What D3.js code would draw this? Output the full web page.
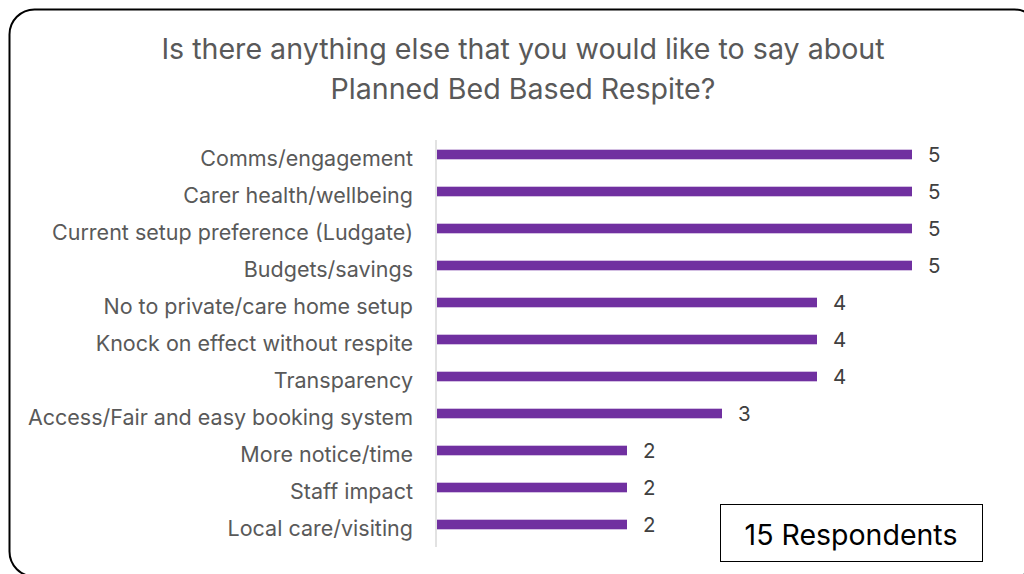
<!DOCTYPE html>
<html>
<head>
<meta charset="utf-8">
<script src="https://cdn.jsdelivr.net/npm/d3@7"></script>
<style>
  html, body { margin: 0; padding: 0; background: #fff; }
  svg { display: block; }
</style>
</head>
<body>
<svg id="chart" width="1024" height="574"></svg>
<script>
const categories = [
  "Comms/engagement",
  "Carer health/wellbeing",
  "Current setup preference (Ludgate)",
  "Budgets/savings",
  "No to private/care home setup",
  "Knock on effect without respite",
  "Transparency",
  "Access/Fair and easy booking system",
  "More notice/time",
  "Staff impact",
  "Local care/visiting"
];
const counts = [5, 5, 5, 5, 4, 4, 4, 3, 2, 2, 2];
const titleLines = [
  "Is there anything else that you would like to say about",
  "Planned Bed Based Respite?"
];
const respondentsNote = "15 Respondents";

const FONT = "Inter, 'Open Sans', sans-serif";
const svg = d3.select("#chart");

// Rounded frame around the whole chart
svg.append("rect")
  .attr("x", 9.5).attr("y", 9.5)
  .attr("width", 1030).attr("height", 567)
  .attr("rx", 25).attr("ry", 25)
  .attr("fill", "#fff")
  .attr("stroke", "#000").attr("stroke-width", 2);

// Title
svg.append("g").selectAll("text")
  .data(titleLines)
  .join("text")
  .attr("x", 523)
  .attr("y", (d, i) => 59 + i * 40)
  .attr("text-anchor", "middle")
  .attr("font-family", FONT)
  .attr("font-size", 28.6)
  .attr("fill", "#595959")
  .text(d => d);

const x = d3.scaleLinear().domain([0, 5]).range([437, 912]);
const y = d3.scaleBand().domain(categories).range([136, 543]).paddingInner(0.74).paddingOuter(0.37);

// Category axis line
svg.append("line")
  .attr("x1", 436).attr("x2", 436)
  .attr("y1", 140).attr("y2", 547)
  .attr("stroke", "#d9d9d9").attr("stroke-width", 1.5);

// Bars
svg.append("g").selectAll("rect")
  .data(categories)
  .join("rect")
  .attr("x", x(0))
  .attr("y", d => y(d))
  .attr("width", (d, i) => x(counts[i]) - x(0))
  .attr("height", y.bandwidth())
  .attr("fill", "#7030a0");

// Category labels
svg.append("g").selectAll("text")
  .data(categories)
  .join("text")
  .attr("x", 413)
  .attr("y", d => y(d) + y.bandwidth() / 2 + 3.5)
  .attr("dy", "0.35em")
  .attr("text-anchor", "end")
  .attr("font-family", FONT)
  .attr("font-size", 21.5)
  .attr("fill", "#595959")
  .text(d => d);

// Value labels
svg.append("g").selectAll("text")
  .data(categories)
  .join("text")
  .attr("x", (d, i) => x(counts[i]) + 16)
  .attr("y", d => y(d) + y.bandwidth() / 2)
  .attr("dy", "0.35em")
  .attr("font-family", FONT)
  .attr("font-size", 20.5)
  .attr("fill", "#404040")
  .text((d, i) => counts[i]);

// Respondents box
svg.append("rect")
  .attr("x", 720.5).attr("y", 504.5)
  .attr("width", 262).attr("height", 57)
  .attr("fill", "#fff")
  .attr("stroke", "#000").attr("stroke-width", 1);
svg.append("text")
  .attr("x", 851).attr("y", 535)
  .attr("dy", "0.35em")
  .attr("text-anchor", "middle")
  .attr("font-family", FONT)
  .attr("font-size", 28.5)
  .attr("fill", "#000")
  .text(respondentsNote);
</script>
</body>
</html>
